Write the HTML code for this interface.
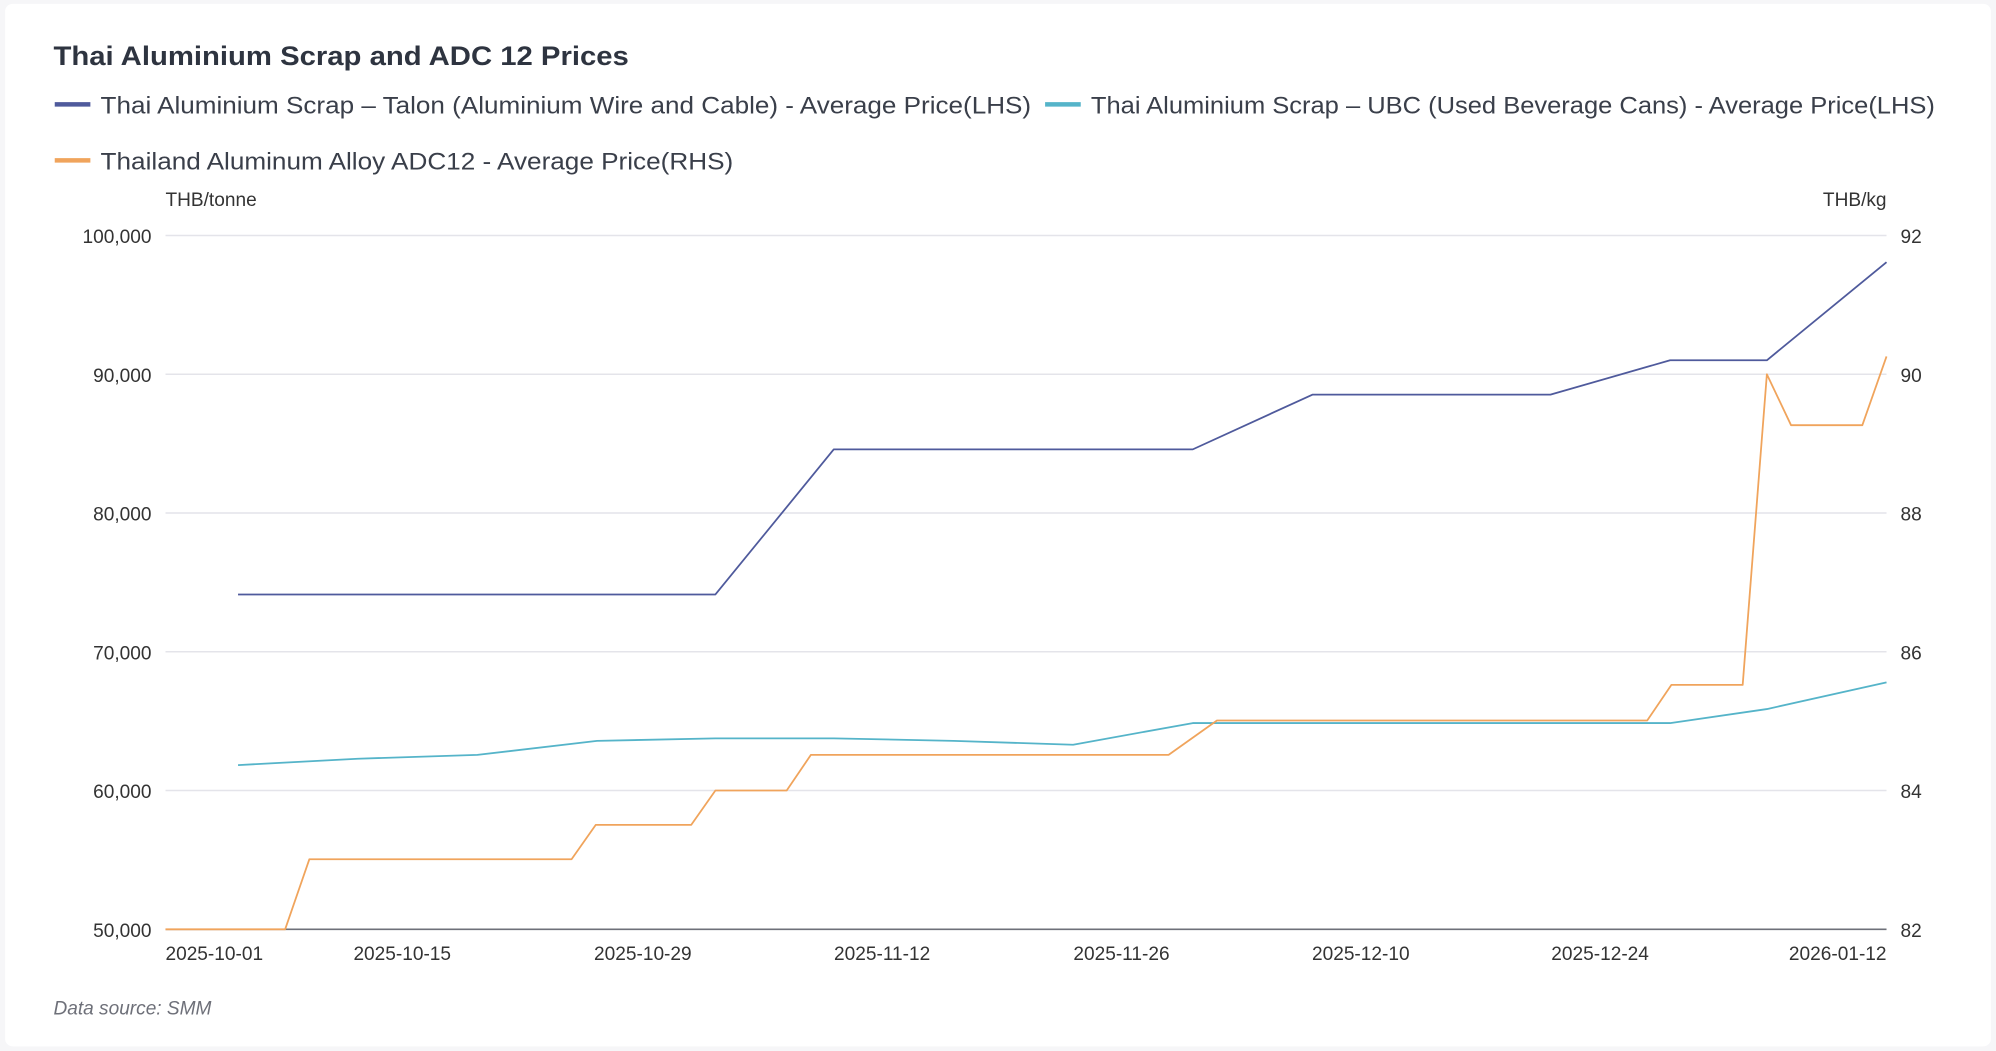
<!DOCTYPE html>
<html><head><meta charset="utf-8"><style>
html,body{margin:0;padding:0;background:#fff;}
svg{display:block;}
text{font-family:"Liberation Sans",sans-serif;}
</style></head><body>
<svg width="1996" height="1051" viewBox="0 0 1568 825.6" preserveAspectRatio="none" xmlns="http://www.w3.org/2000/svg">
<rect x="0" y="0" width="1568" height="825.6" fill="#f6f6f8"/>
<rect x="4" y="3" width="1560" height="819" rx="6" fill="#fff"/>
<text x="42" y="51" font-size="21" font-weight="bold" fill="#2e3440" textLength="452" lengthAdjust="spacingAndGlyphs">Thai Aluminium Scrap and ADC 12 Prices</text>
<line x1="43" y1="82" x2="71" y2="82" stroke="#4f5a9c" stroke-width="3.5"/>
<text x="79" y="89" font-size="19" fill="#3a3f4a" textLength="731" lengthAdjust="spacingAndGlyphs">Thai Aluminium Scrap – Talon (Aluminium Wire and Cable) - Average Price(LHS)</text>
<line x1="821" y1="82" x2="849" y2="82" stroke="#55b4c9" stroke-width="3.5"/>
<text x="857" y="89" font-size="19" fill="#3a3f4a" textLength="663" lengthAdjust="spacingAndGlyphs">Thai Aluminium Scrap – UBC (Used Beverage Cans) - Average Price(LHS)</text>
<line x1="43" y1="126" x2="71" y2="126" stroke="#f0a45c" stroke-width="3.5"/>
<text x="79" y="133" font-size="19" fill="#3a3f4a" textLength="497" lengthAdjust="spacingAndGlyphs">Thailand Aluminum Alloy ADC12 - Average Price(RHS)</text>
<text x="130" y="162" font-size="15" fill="#333">THB/tonne</text>
<text x="1482" y="162" font-size="15" fill="#333" text-anchor="end">THB/kg</text>
<g stroke="#e4e4ea" stroke-width="1.2">
<line x1="130" y1="185" x2="1482" y2="185"/>
<line x1="130" y1="294" x2="1482" y2="294"/>
<line x1="130" y1="403" x2="1482" y2="403"/>
<line x1="130" y1="512" x2="1482" y2="512"/>
<line x1="130" y1="621" x2="1482" y2="621"/>
</g>
<line x1="130" y1="730" x2="1482" y2="730" stroke="#6e7079" stroke-width="1.3"/>
<g font-size="15" fill="#333" text-anchor="end">
<text x="119" y="191">100,000</text><text x="119" y="300">90,000</text><text x="119" y="409">80,000</text>
<text x="119" y="518">70,000</text><text x="119" y="627">60,000</text><text x="119" y="736">50,000</text>
</g>
<g font-size="15" fill="#333">
<text x="1493" y="191">92</text><text x="1493" y="300">90</text><text x="1493" y="409">88</text>
<text x="1493" y="518">86</text><text x="1493" y="627">84</text><text x="1493" y="736">82</text>
</g>
<g font-size="15" fill="#333" text-anchor="middle">
<text x="130" y="754" text-anchor="start">2025-10-01</text>
<text x="316" y="754">2025-10-15</text><text x="505" y="754">2025-10-29</text><text x="693" y="754">2025-11-12</text>
<text x="881" y="754">2025-11-26</text><text x="1069" y="754">2025-12-10</text><text x="1257" y="754">2025-12-24</text>
<text x="1482" y="754" text-anchor="end">2026-01-12</text>
</g>
<g fill="none" stroke-width="1.4" stroke-linejoin="round">
<polyline stroke="#4f5a9c" points="187,467 562,467 655,353 937,353 1031,310 1218,310 1312,283 1388,283 1482,206"/>
<polyline stroke="#55b4c9" points="187,601 281,596 375,593 469,582 562,580 655,580 749,582 843,585 937,568 1031,568 1312,568 1388,557 1482,536"/>
<polyline stroke="#f0a45c" points="130,730 224,730 243,675 449,675 468,648 543,648 562,621 618,621 637,593 918,593 956,566 1294,566 1313,538 1369,538 1388,294 1407,334 1463,334 1482,280"/>
</g>
<text x="42" y="797" font-size="15" font-style="italic" fill="#6e7079">Data source:  SMM</text>
</svg>
</body></html>
